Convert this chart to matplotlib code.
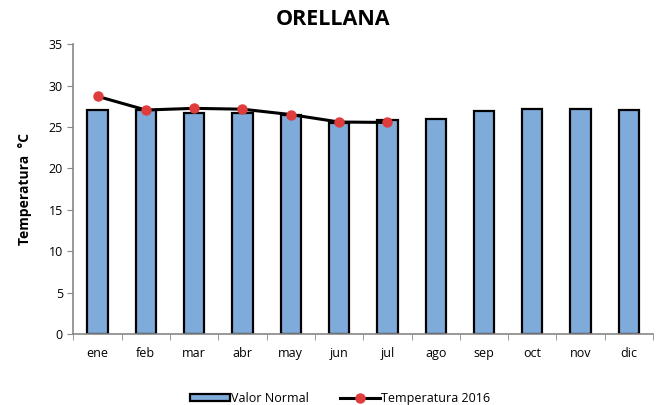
import numpy as np
import matplotlib.pyplot as plt

plt.rcParams['font.family'] = ['Open Sans', 'DejaVu Sans']

# data
months = ["ene", "feb", "mar", "abr", "may", "jun", "jul",
          "ago", "sep", "oct", "nov", "dic"]
normal = [27.1, 27.0, 26.7, 26.7, 26.4, 25.5, 25.8,
          26.0, 26.9, 27.2, 27.15, 27.0]
temp_2016 = [28.7, 27.05, 27.25, 27.15, 26.5, 25.6, 25.55]

x = np.arange(len(months))

fig = plt.figure(figsize=(6.61, 4.05), dpi=100)
ax = fig.add_axes([0.111, 0.175, 0.877, 0.716])

bars = ax.bar(x, normal, width=0.42, color="#7fabdb", edgecolor="black",
              linewidth=1.6, label="Valor Normal", zorder=2)
line, = ax.plot(x[:len(temp_2016)], temp_2016, color="black", linewidth=2.2,
                marker="o", markersize=6.5, markerfacecolor="#e03c3c",
                markeredgecolor="#e03c3c", label="Temperatura 2016", zorder=3)

ax.set_xlim(-0.5, len(months) - 0.5)
ax.set_ylim(0, 35)
ax.set_yticks(np.arange(0, 36, 5))
ax.set_xticks(x)
ax.set_xticklabels(months)
ax.set_xticks(np.arange(-0.5, len(months)), minor=True)
ax.tick_params(axis="x", which="major", length=0, pad=9, labelsize=9)
ax.tick_params(axis="x", which="minor", length=4, color="#888888", direction="out")
ax.tick_params(axis="y", length=4, color="#888888", labelsize=9)

for side in ("top", "right"):
    ax.spines[side].set_visible(False)
for side in ("left", "bottom"):
    ax.spines[side].set_color("#888888")
    ax.spines[side].set_linewidth(1.2)

ax.set_ylabel("Temperatura  °C", fontsize=10, fontweight="bold", labelpad=12)
fig.suptitle("ORELLANA", fontsize=15.5, fontweight="bold", x=0.504, y=0.978)

ax.legend([bars, line], ["Valor Normal", "Temperatura 2016"],
          loc="upper center", bbox_to_anchor=(0.46, -0.16), ncol=2,
          frameon=False, fontsize=9, handlelength=3.2, handleheight=0.5,
          handletextpad=0.1, columnspacing=2.5)

fig.savefig("out.png", dpi=100)
